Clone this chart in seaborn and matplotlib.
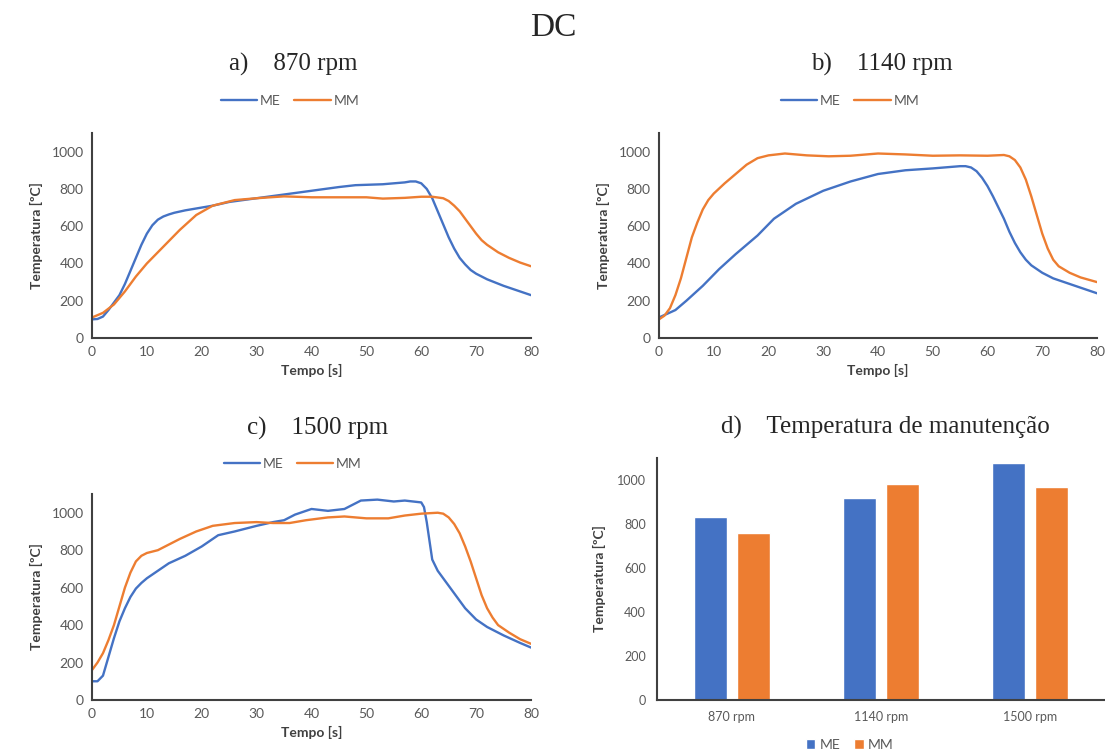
import matplotlib
matplotlib.use("Agg")
import matplotlib.pyplot as plt
import seaborn as sns
import pandas as pd

# ---------------- data ----------------
series_names = ["ME", "MM"]

# a) 870 rpm
t_a_me = [0, 1, 2, 3, 4, 5, 6, 7, 8, 9, 10, 11, 12, 13, 14, 15, 17, 20, 22, 25, 30, 35, 40, 45, 48, 53, 57, 58, 59, 60, 61, 62, 63, 64, 65, 66, 67, 68, 69, 70, 72, 75, 78, 80]
v_a_me = [100, 102, 115, 150, 190, 230, 290, 360, 430, 500, 560, 605, 635, 652, 663, 672, 685, 700, 710, 730, 750, 770, 790, 810, 820, 825, 835, 840, 840, 830, 800, 750, 680, 610, 540, 480, 430, 395, 365, 345, 315, 280, 250, 230]
t_a_mm = [0, 2, 4, 6, 8, 10, 13, 16, 19, 22, 26, 30, 35, 40, 45, 50, 53, 57, 60, 62, 64, 65, 66, 67, 68, 69, 70, 71, 72, 74, 76, 78, 80]
v_a_mm = [110, 135, 180, 250, 330, 400, 490, 580, 660, 710, 740, 750, 760, 755, 755, 755, 748, 752, 758, 758, 750, 735, 710, 680, 640, 600, 560, 525, 500, 460, 430, 405, 385]

# b) 1140 rpm
t_b_me = [0, 3, 5, 8, 11, 14, 18, 21, 25, 30, 35, 40, 45, 50, 55, 56, 57, 58, 59, 60, 61, 62, 63, 64, 65, 66, 67, 68, 70, 72, 75, 78, 80]
v_b_me = [110, 150, 200, 280, 370, 450, 550, 640, 720, 790, 840, 880, 900, 910, 922, 922, 915, 895, 860, 815, 760, 700, 640, 570, 510, 460, 420, 390, 350, 320, 290, 260, 240]
t_b_mm = [0, 1, 2, 3, 4, 5, 6, 7, 8, 9, 10, 12, 14, 16, 18, 20, 23, 27, 31, 35, 40, 45, 50, 55, 60, 63, 64, 65, 66, 67, 68, 69, 70, 71, 72, 73, 75, 77, 80]
v_b_mm = [100, 120, 160, 230, 320, 430, 540, 620, 690, 740, 775, 830, 880, 930, 965, 980, 990, 980, 975, 978, 990, 985, 978, 980, 978, 982, 975, 955, 915, 850, 760, 660, 560, 480, 420, 385, 350, 325, 300]

# c) 1500 rpm
t_c_me = [0, 1, 2, 3, 4, 5, 6, 7, 8, 9, 10, 12, 14, 17, 20, 23, 26, 30, 33, 35, 37, 40, 43, 46, 49, 52, 55, 57, 60, 60.5, 61, 61.5, 62, 63, 64, 66, 68, 70, 72, 75, 78, 80]
v_c_me = [100, 100, 130, 230, 330, 420, 490, 550, 595, 625, 650, 690, 730, 770, 820, 880, 900, 930, 950, 960, 990, 1020, 1010, 1020, 1065, 1070, 1060, 1065, 1055, 1030, 950, 850, 750, 690, 650, 570, 490, 430, 390, 345, 305, 280]
t_c_mm = [0, 1, 2, 3, 4, 5, 6, 7, 8, 9, 10, 12, 14, 16, 19, 22, 26, 30, 33, 36, 39, 43, 46, 50, 54, 57, 60, 63, 64, 65, 66, 67, 68, 69, 70, 71, 72, 73, 74, 76, 78, 80]
v_c_mm = [160, 200, 250, 320, 400, 500, 600, 680, 740, 770, 785, 800, 830, 860, 900, 930, 945, 950, 945, 945, 960, 975, 980, 970, 970, 985, 995, 1000, 995, 975, 940, 890, 820, 740, 650, 560, 490, 440, 400, 360, 325, 300]

# d) Temperatura de manutenção
bar_categories = ["870 rpm", "1140 rpm", "1500 rpm"]
bar_me = [832, 918, 1077]
bar_mm = [759, 982, 968]

x_ticks = [0, 10, 20, 30, 40, 50, 60, 70, 80]
y_ticks = [0, 200, 400, 600, 800, 1000]

# ---------------- style ----------------
sns.set_theme(style="white")
plt.rcParams["font.family"] = ["Lato", "DejaVu Sans"]

BLUE = "#4472C4"
ORANGE = "#ED7D31"
palette = {"ME": BLUE, "MM": ORANGE}
TICK_C = "#595959"
SPINE_C = "#404040"
SERIF = ["Liberation Serif", "DejaVu Serif"]

W, H = 1105, 756
fig = plt.figure(figsize=(W / 100, H / 100), dpi=100)


def frac(left, right, top, bottom):
    return [left / W, 1 - bottom / H, (right - left) / W, (bottom - top) / H]


def style_axes(ax):
    for s in ["top", "right"]:
        ax.spines[s].set_visible(False)
    for s in ["left", "bottom"]:
        ax.spines[s].set_color(SPINE_C)
        ax.spines[s].set_linewidth(1.5)
    ax.tick_params(axis="both", length=0, labelsize=10, colors=TICK_C, pad=6)
    ax.set_ylim(0, 1100)
    ax.set_yticks(y_ticks)
    ax.grid(False)


def line_panel(rect, t_me, v_me, t_mm, v_mm, leg_x, leg_y):
    ax = fig.add_axes(rect)
    df = pd.concat([
        pd.DataFrame({"Tempo": t_me, "Temp": v_me, "Série": "ME"}),
        pd.DataFrame({"Tempo": t_mm, "Temp": v_mm, "Série": "MM"}),
    ])
    sns.lineplot(data=df, x="Tempo", y="Temp", hue="Série", palette=palette,
                 hue_order=series_names, linewidth=1.7, ax=ax, estimator=None,
                 solid_joinstyle="round", solid_capstyle="round")
    style_axes(ax)
    ax.set_xlim(0, 80)
    ax.set_xticks(x_ticks)
    ax.set_xlabel("Tempo [s]", fontsize=10, fontweight="bold", color=SPINE_C, labelpad=4)
    ax.set_ylabel("Temperatura [ºC]", fontsize=10, fontweight="bold", color=SPINE_C, labelpad=6)
    h, l = ax.get_legend_handles_labels()
    ax.legend(h, l, loc="center", bbox_to_anchor=(leg_x, leg_y), ncol=2, frameon=False,
              fontsize=10, labelcolor=TICK_C, handlelength=2.6, handletextpad=0.2,
              columnspacing=1.0, borderaxespad=0)
    return ax


line_panel(frac(92, 531, 133, 338), t_a_me, v_a_me, t_a_mm, v_a_mm, 0.451, 1.156)
line_panel(frac(659, 1097, 133, 338), t_b_me, v_b_me, t_b_mm, v_b_mm, 0.436, 1.156)
line_panel(frac(92, 531, 494, 700), t_c_me, v_c_me, t_c_mm, v_c_mm, 0.457, 1.146)

# bar panel
axd = fig.add_axes(frac(657, 1105, 458, 700))
dfb = pd.DataFrame({
    "Rotação": bar_categories * 2,
    "Temp": bar_me + bar_mm,
    "Série": ["ME"] * 3 + ["MM"] * 3,
})
sns.barplot(data=dfb, x="Rotação", y="Temp", hue="Série", palette=palette,
            hue_order=series_names, width=0.573, gap=0.23, ax=axd,
            saturation=1, errorbar=None)
style_axes(axd)
axd.set_xlim(-0.5, 2.5)
axd.tick_params(axis="both", labelsize=9, pad=8)
axd.set_xlabel("")
axd.set_ylabel("Temperatura [ºC]", fontsize=10, fontweight="bold", color=SPINE_C, labelpad=8)
h, l = axd.get_legend_handles_labels()
axd.legend(h, l, loc="center", bbox_to_anchor=(0.43, -0.186), ncol=2, frameon=False,
           fontsize=10, labelcolor=TICK_C, handlelength=0.7, handleheight=0.7,
           handletextpad=0.3, columnspacing=1.0, borderaxespad=0)

# titles
fig.text(553 / W, 1 - 28 / H, "DC", ha="center", va="center", fontsize=24, family=SERIF)
fig.text(293 / W, 1 - 64 / H, "a)    870 rpm", ha="center", va="center", fontsize=18, family=SERIF)
fig.text(882 / W, 1 - 64 / H, "b)    1140 rpm", ha="center", va="center", fontsize=18, family=SERIF)
fig.text(318 / W, 1 - 428 / H, "c)    1500 rpm", ha="center", va="center", fontsize=18, family=SERIF)
fig.text(885 / W, 1 - 427 / H, "d)    Temperatura de manutenção", ha="center", va="center",
         fontsize=18, family=SERIF)

fig.savefig("out.png", dpi=100, facecolor="white")
